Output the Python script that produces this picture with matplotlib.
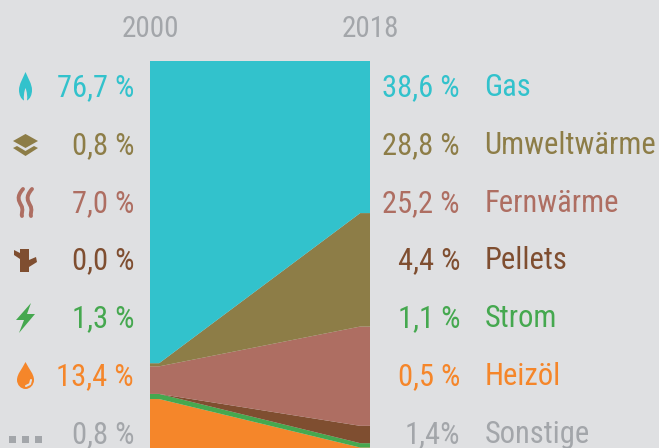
import matplotlib
matplotlib.use("Agg")
import matplotlib.pyplot as plt
from matplotlib.patches import PathPatch, Polygon, Rectangle
from matplotlib.path import Path

W, H = 659, 448
BG = "#dfe0e2"

NAMES = ["Gas", "Umweltwärme", "Fernwärme", "Pellets", "Strom", "Heizöl", "Sonstige"]
SHARE_2000 = [76.7, 0.8, 7.0, 0.0, 1.3, 13.4, 0.8]
SHARE_2018 = [38.6, 28.8, 25.2, 4.4, 1.1, 0.5, 1.4]
COLORS = ["#32c2cc", "#8d7d47", "#ae6e62", "#7f4e30", "#45a84f", "#f5862a", "#a3a6aa"]
YEARS = ["2000", "2018"]
# the bands stay flat for a short stretch next to each year
X_KNOTS = [2000, 2000.75, 2017.2, 2018]

ROW_Y = [86, 144, 202, 259, 317, 375, 433]

plt.rcParams["font.family"] = ["Roboto Condensed", "Archivo Narrow", "Fira Sans Condensed", "Roboto", "DejaVu Sans"]

fig = plt.figure(figsize=(W / 100, H / 100), dpi=100, facecolor=BG)

# stacked area, runs past the bottom edge of the picture like the original
ax = fig.add_axes([150 / W, (H - 455) / H, 220 / W, 394 / H])
bands = [[a, a, b, b] for a, b in zip(SHARE_2000, SHARE_2018)]
ax.stackplot(X_KNOTS, bands[::-1], colors=COLORS[::-1], linewidth=0)
ax.set_xlim(2000, 2018)
ax.set_ylim(0, 100)
ax.axis("off")

# overlay in pixel coordinates for labels and icons
ov = fig.add_axes([0, 0, 1, 1], zorder=5)
ov.set_xlim(0, W)
ov.set_ylim(H, 0)
ov.axis("off")

FS = 22
ov.text(150, 37, YEARS[0], ha="center", va="baseline", fontsize=FS - 1, color="#a3a6aa")
ov.text(370, 37, YEARS[1], ha="center", va="baseline", fontsize=FS - 1, color="#a3a6aa")


def pct(v, sep=" "):
    return f"{v:.1f}{sep}%".replace(".", ",")


for i, name in enumerate(NAMES):
    y = ROW_Y[i] + 10
    c = COLORS[i]
    ov.text(134, y, pct(SHARE_2000[i]), ha="right", va="baseline", fontsize=FS, color=c)
    sep = "" if name == "Sonstige" else " "
    ov.text(460, y, pct(SHARE_2018[i], sep), ha="right", va="baseline", fontsize=FS, color=c)
    ov.text(484.5, y, name, ha="left", va="baseline", fontsize=FS, color=c)


def add_curve(verts, color):
    codes = [Path.MOVETO] + [Path.CURVE4] * (len(verts) - 1)
    ov.add_patch(PathPatch(Path(verts, codes), facecolor=color, edgecolor="none", lw=0))


# flame
add_curve(
    [(25.5, 72), (23, 78), (19, 84), (19, 90), (19, 95), (21, 99), (24, 100.5),
     (23.5, 96), (24, 92), (25.5, 88), (27, 92), (27.5, 96), (27, 100.5),
     (30, 99), (32, 95), (32, 90), (32, 84), (28, 78), (25.5, 72)],
    COLORS[0],
)

# layers
ov.add_patch(Polygon([(13, 141), (25.5, 134), (38, 141), (25.5, 148)], color=COLORS[1], lw=0))
ov.add_patch(Polygon([(13, 148), (17, 146), (25.5, 151), (34, 146), (38, 148), (25.5, 156)], color=COLORS[1], lw=0))

# heat waves
for dx in (0, 9):
    wave = [(23 + dx, 189), (16 + dx, 197), (19 + dx, 201), (21 + dx, 205),
            (24 + dx, 210), (21 + dx, 213), (22 + dx, 216)]
    codes = [Path.MOVETO] + [Path.CURVE4] * 6
    ov.add_patch(PathPatch(Path(wave, codes), facecolor="none", edgecolor=COLORS[2], lw=2.8, capstyle="round"))

# trunk
ov.add_patch(Polygon(
    [(14, 250), (20, 253), (20, 249), (29, 249), (29, 260), (36, 257), (37, 262), (29, 267), (29, 272), (20, 272), (20, 259), (14, 255)],
    color=COLORS[3], lw=0,
))

# bolt
ov.add_patch(Polygon(
    [(31, 303), (16, 320), (24, 320), (19, 333), (35, 314), (27, 314)],
    color=COLORS[4], lw=0,
))

# drop
add_curve(
    [(25.5, 362), (22, 369), (17, 374), (17, 380), (17, 385), (21, 389), (25.5, 389),
     (30, 389), (34, 385), (34, 380), (34, 374), (29, 369), (25.5, 362)],
    COLORS[5],
)
# highlight inside the drop
ov.plot([31, 30, 26], [380, 384, 386], color=BG, lw=1.5, solid_capstyle="round")

# dots for "Sonstige"
for x0 in (9, 22, 35):
    ov.add_patch(Rectangle((x0, 436), 7, 7, facecolor=COLORS[6], edgecolor="none"))

fig.savefig("out.png", dpi=100, facecolor=BG)
